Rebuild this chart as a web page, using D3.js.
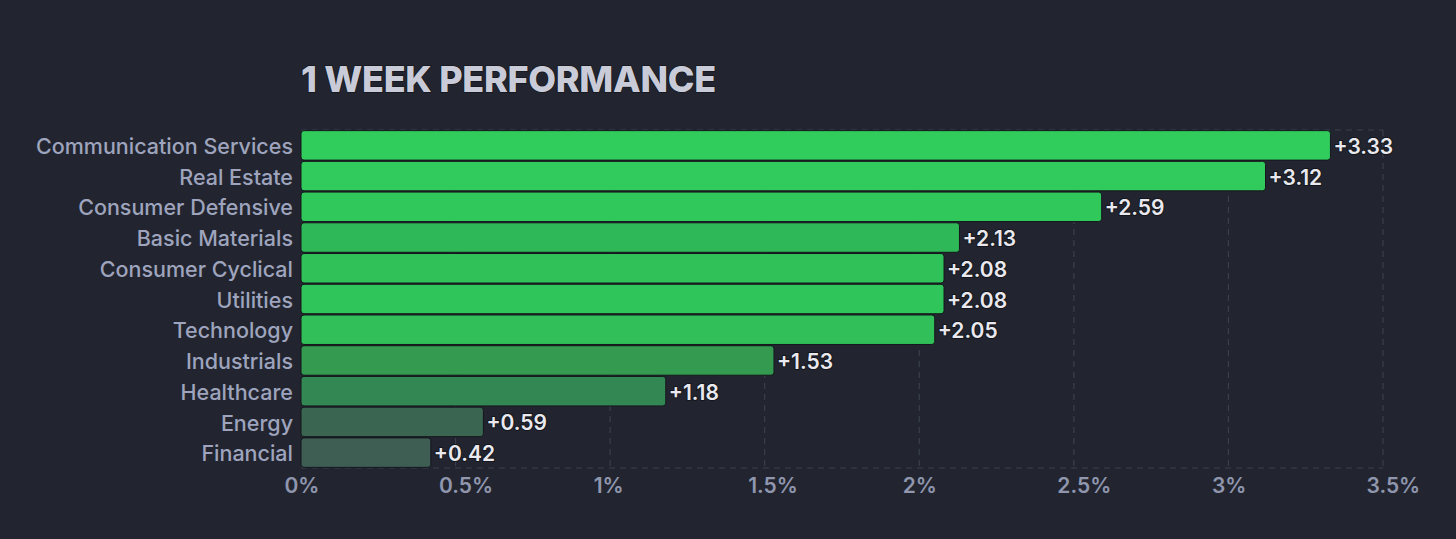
<!DOCTYPE html>
<html><head><meta charset="utf-8">
<script src="https://cdn.jsdelivr.net/npm/d3@7"></script>
<style>
html,body{margin:0;padding:0;background:#22252f;}
svg{display:block;}
text{font-family:Inter,"Noto Sans",sans-serif;}
</style></head>
<body>
<svg id="chart" width="1456" height="539"></svg>
<script>
const categories = ["Communication Services","Real Estate","Consumer Defensive","Basic Materials","Consumer Cyclical","Utilities","Technology","Industrials","Healthcare","Energy","Financial"];
const values = [3.33,3.12,2.59,2.13,2.08,2.08,2.05,1.53,1.18,0.59,0.42];
const barColors = ["#30cc5c","#30cb5c","#30c85b","#2fb857","#30c259","#30c55a","#30bf58","#339a50","#338753","#3a6651","#3e5d53"];
const tickValues = [0,0.5,1,1.5,2,2.5,3,3.5];
const tickLabels = ["0%","0.5%","1%","1.5%","2%","2.5%","3%","3.5%"];
const title = "1 WEEK PERFORMANCE";

const svg = d3.select("#chart");
const m = {left:301, right:1383, top:130, bottom:468};
const x = d3.scaleLinear().domain([0,3.5]).range([m.left,m.right]);
const y = d3.scaleBand().domain(categories).range([m.top,m.bottom]).paddingInner(0.04).paddingOuter(0.02);

// grid
const grid = svg.append("g");
grid.selectAll("line.v").data(tickValues.slice(1)).join("line")
  .attr("x1",d=>x(d)).attr("x2",d=>x(d)).attr("y1",m.top).attr("y2",m.bottom)
  .attr("stroke","#3a3f4e").attr("stroke-width",1.2).attr("stroke-dasharray","6,5");
[m.top,m.bottom].forEach(yy=>grid.append("line")
  .attr("x1",m.left).attr("x2",m.right).attr("y1",yy).attr("y2",yy)
  .attr("stroke","#3a3f4e").attr("stroke-width",1.2).attr("stroke-dasharray","6,5"));

// title
svg.append("text").attr("x",m.left).attr("y",92).text(title)
  .attr("font-size",36).attr("font-weight",800).attr("fill","#c9ccd8")
  .attr("stroke","#14161c").attr("stroke-width",1.5).attr("paint-order","stroke")
  .attr("letter-spacing","-0.3");

// bars
svg.append("g").selectAll("rect").data(categories).join("rect")
  .attr("x",x(0)).attr("y",d=>y(d))
  .attr("width",(d,i)=>x(values[i])-x(0)).attr("height",y.bandwidth())
  .attr("rx",3).attr("fill",(d,i)=>barColors[i])
  .attr("stroke","#15171d").attr("stroke-width",1);

// value labels
svg.append("g").selectAll("text").data(categories).join("text")
  .attr("x",(d,i)=>x(values[i])+3).attr("y",d=>y(d)+y.bandwidth()/2+1)
  .attr("dy","0.36em").text((d,i)=>"+"+values[i].toFixed(2))
  .attr("font-size",21).attr("font-weight",600).attr("fill","#e9e9ef")
  .attr("stroke","#14161c").attr("stroke-width",2).attr("paint-order","stroke");

// category axis
const yAxis = svg.append("g").attr("transform",`translate(${m.left},0)`)
  .call(d3.axisLeft(y).tickSize(0).tickPadding(8));
yAxis.select(".domain").remove();
yAxis.selectAll("text").attr("font-size",21.5).attr("font-weight",500).attr("fill","#9ea4bd")
  .attr("font-family","Inter,'Noto Sans',sans-serif").attr("dy","0.4em");

// x axis
const xAxis = svg.append("g").attr("transform",`translate(0,${m.bottom})`)
  .call(d3.axisBottom(x).tickValues(tickValues).tickFormat((d,i)=>tickLabels[i]).tickSize(0).tickPadding(10));
xAxis.select(".domain").remove();
xAxis.selectAll("text").attr("font-size",21).attr("font-weight",600).attr("fill","#8f96ae")
  .attr("font-family","Inter,'Noto Sans',sans-serif")
  .attr("text-anchor","start").attr("dx",-17);
</script>
</body></html>
